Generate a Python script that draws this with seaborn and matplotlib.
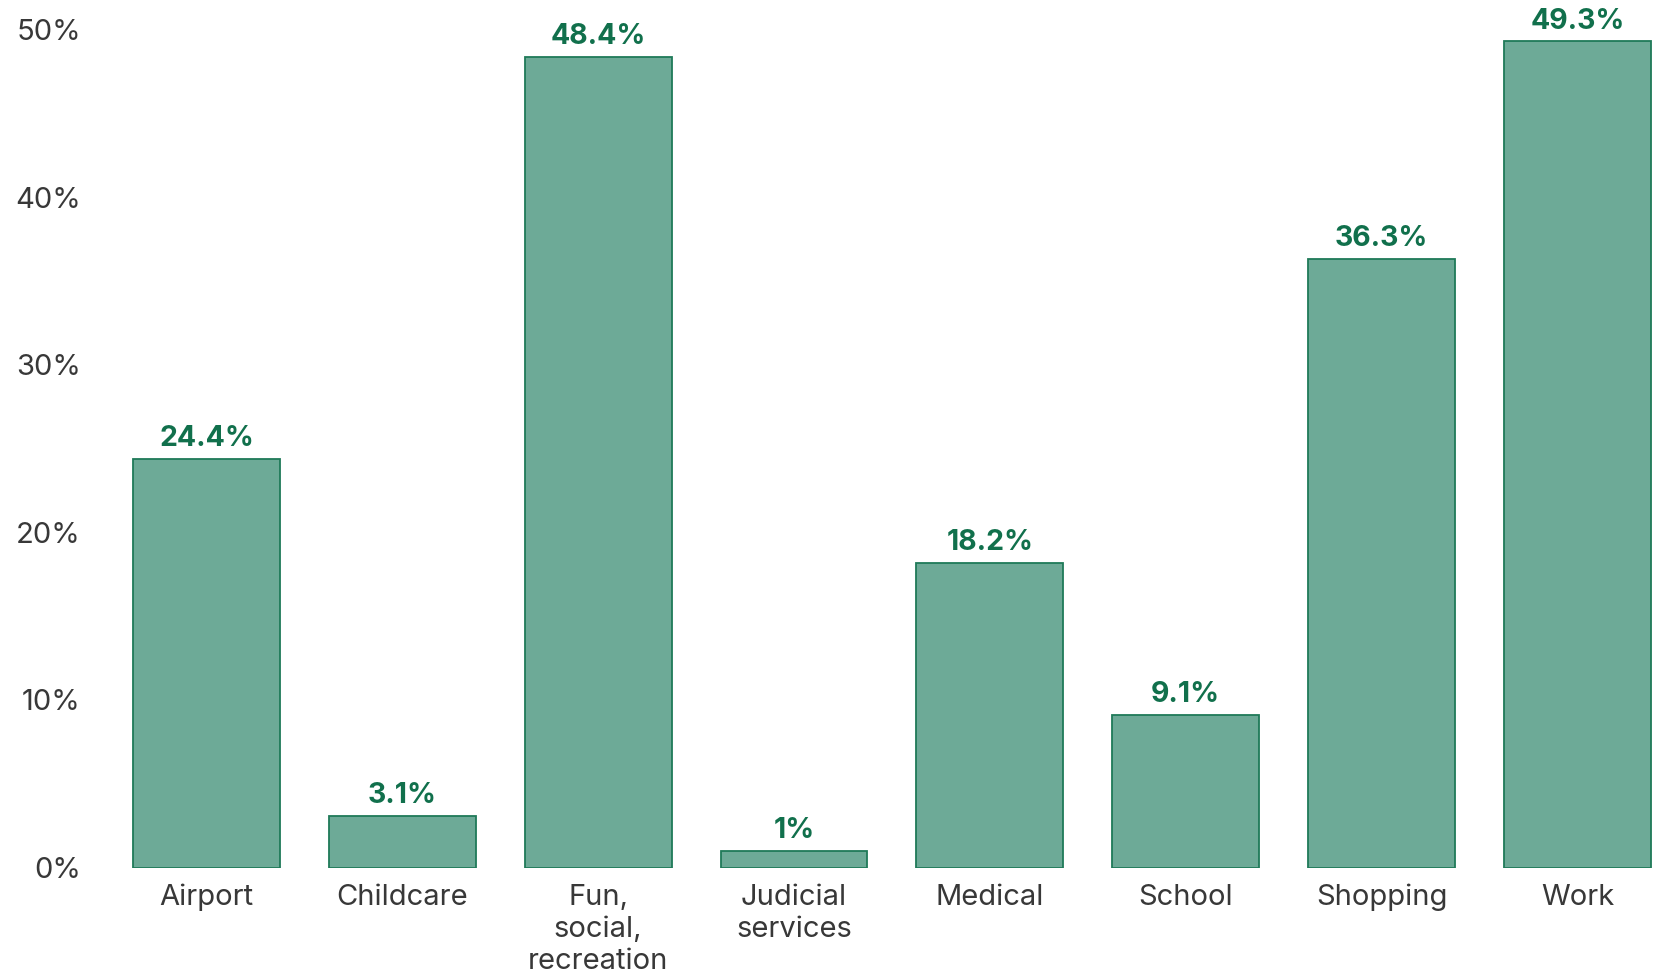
import matplotlib
matplotlib.use("Agg")
import matplotlib.pyplot as plt
import seaborn as sns
import pandas as pd

categories = ["Airport", "Childcare", "Fun,\nsocial,\nrecreation", "Judicial\nservices",
              "Medical", "School", "Shopping", "Work"]
shares = [24.4, 3.1, 48.4, 1.0, 18.2, 9.1, 36.3, 49.3]
value_labels = ["24.4%", "3.1%", "48.4%", "1%", "18.2%", "9.1%", "36.3%", "49.3%"]
y_ticks = [0, 10, 20, 30, 40, 50]

sns.set_theme(style="white")
plt.rcParams["font.family"] = ["Inter", "DejaVu Sans"]

df = pd.DataFrame({"category": categories, "share": shares})

fig = plt.figure(figsize=(16.65, 9.75), dpi=100)
ax = fig.add_axes([0.0652, 0.1102, 0.9328, 0.8593])

sns.barplot(data=df, x="category", y="share", color="#6daa97", saturation=1,
            width=0.75, edgecolor="#1f7a58", linewidth=1.3, ax=ax)

for i, (v, lab) in enumerate(zip(shares, value_labels)):
    ax.annotate(lab, (i, v), xytext=(0, 5), textcoords="offset points",
                ha="center", va="bottom", fontsize=20.5, fontweight="bold",
                color="#11704c", annotation_clip=False)

ax.set_xlim(-0.5, 7.43)
ax.set_ylim(0, 50)
ax.set_yticks(y_ticks)
ax.set_yticklabels([f"{t}%" for t in y_ticks])
ax.set_xlabel("")
ax.set_ylabel("")
sns.despine(ax=ax, left=True, bottom=True)
ax.tick_params(axis="y", length=0, pad=20, labelsize=21, labelcolor="#383838")
ax.tick_params(axis="x", length=0, pad=11.5, labelsize=21, labelcolor="#383838")
for t in ax.get_xticklabels():
    t.set_linespacing(1.25)

fig.savefig("out.png", dpi=100)
